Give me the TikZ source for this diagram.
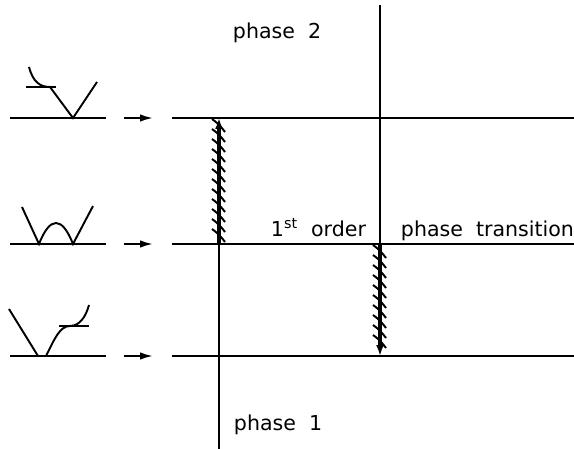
\documentclass[tikz,border=0pt]{standalone}
\usepackage{fontspec}
\setmainfont{DejaVu Sans}
\usetikzlibrary{calc,arrows.meta}
\tikzset{>=latex}

\begin{document}
\begin{tikzpicture}[x = 0.02cm, y = -0.02cm, line width = 1.1pt]

    \useasboundingbox (0,0) rectangle (574,449);
    \fontsize{11.7}{14}\selectfont

    % main grid
    \coordinate (tl) at (172,118);
    \coordinate (ml) at (172,244);
    \coordinate (bl) at (172,356);
    \draw (tl) -- ++(402,0);
    \draw (ml) -- ++(402,0);
    \draw (bl) -- ++(402,0);

    \coordinate (a) at (219,118);
    \coordinate (b) at (219,244);
    \coordinate (c) at (380,244);
    \coordinate (d) at (380,356);
    \draw (b) -- (219,449);
    \draw (380,5) -- (c);

    % hatched lines
    \draw[line width = 2pt, -{Latex[length=2.2mm,width=1.6mm]}] (b) -- (a);
    \foreach \y in {126,136,...,240}
        \draw[line width = 1.1pt] (212,\y-7) .. controls (216,\y-4) and (219,\y-2) .. (225,\y+6);
    \draw[line width = 2pt, -{Latex[length=2.2mm,width=1.6mm]}] (c) -- (d);
    \foreach \y in {252,262,...,350}
        \draw[line width = 1.1pt] (373,\y-7) .. controls (377,\y-4) and (380,\y-2) .. (386,\y+6);

    % labels
    \node[anchor = base west, inner sep = 0] (p2) at (232,39) {phase~ 2};
    \node[anchor = base west, inner sep = 0] (p1) at (233,430) {phase~ 1};
    \node[anchor = base west, inner sep = 0] (ord) at (270,236) {1\textsuperscript{st}~ order};
    \node[anchor = base west, inner sep = 0] (tr) at (400,236) {phase~ transition};

    % potentials
    \begin{scope}
        \coordinate (base) at (10,118);
        \draw (base) -- ++(96,0);
        \draw[-{Latex[length=2.6mm,width=1.5mm]}] (124,118) -- (153,118);
        \draw (29,67) .. controls (33,82) and (40,87) .. (50,87) -- (73,118) -- (97,82);
        \draw (26,87) -- (56,87);
    \end{scope}

    \begin{scope}
        \coordinate (base) at (10,244);
        \draw (base) -- ++(96,0);
        \draw[-{Latex[length=2.6mm,width=1.5mm]}] (124,244) -- (153,244);
        \draw (22,207) -- (39,244) .. controls (50,216) and (62,216) .. (73,244) -- (93,206);
    \end{scope}

    \begin{scope}
        \coordinate (base) at (10,356);
        \draw (base) -- ++(96,0);
        \draw[-{Latex[length=2.6mm,width=1.5mm]}] (124,356) -- (153,356);
        \draw (9,309) -- (38,356) -- (46,356) .. controls (55,338) and (60,326) .. (70,326) .. controls (80,326) and (86,316) .. (89,305);
        \draw (59,326) -- (89,326);
    \end{scope}

\end{tikzpicture}
\end{document}
